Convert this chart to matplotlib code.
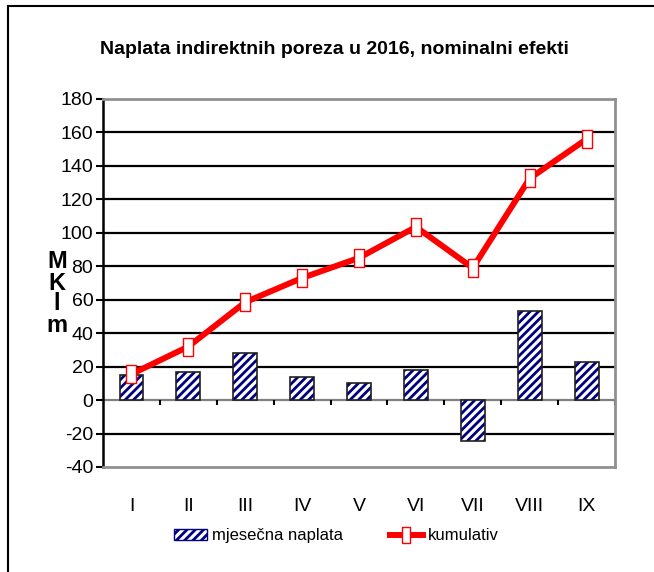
import numpy as np
import matplotlib.pyplot as plt
from matplotlib.patches import Rectangle
from matplotlib.lines import Line2D
from matplotlib.patches import Patch

# monthly values and running total (millions kn)
months = ["I", "II", "III", "IV", "V", "VI", "VII", "VIII", "IX"]
monthly = [15, 16.5, 28, 14, 10, 18, -24.5, 53, 23]
cumulative = [15.5, 32, 58.5, 73, 85, 103.5, 79, 132.5, 156]
yticks = list(range(-40, 181, 20))

plt.rcParams['font.family'] = ['Liberation Sans', 'DejaVu Sans']
plt.rcParams['hatch.linewidth'] = 2.0

fig = plt.figure(figsize=(6.54, 5.72), dpi=100)
ax = fig.add_axes([0.1575, 0.1836, 0.7829, 0.6434])

x = np.arange(len(months))
# hatch layer (navy) + outline layer (black)
ax.bar(x, monthly, width=0.42, color="white", edgecolor="#000080",
       hatch="////", linewidth=0, zorder=3)
ax.bar(x, monthly, width=0.42, color="none", edgecolor="#202020",
       linewidth=1.2, zorder=4)

rect_marker = [(-0.5, -1), (0.5, -1), (0.5, 1), (-0.5, 1), (-0.5, -1)]
ax.plot(x, cumulative, color="#ff0000", linewidth=4.3, marker=rect_marker,
        markersize=13, markerfacecolor="white", markeredgecolor="#ff0000",
        markeredgewidth=1.0, zorder=5)

ax.set_xlim(-0.5, len(months) - 0.5)
ax.set_ylim(-40, 180)
ax.set_yticks(yticks)
ax.set_yticklabels([str(v) for v in yticks], fontsize=14)
ax.set_xticks(x)
ax.set_xticklabels(months, fontsize=14)
ax.tick_params(axis="x", length=0, pad=22)
ax.tick_params(axis="y", length=5, width=1.5, direction="out", pad=2)

for v in yticks[1:-1]:
    if v == 0:
        continue
    ax.axhline(v, color="black", linewidth=1.6, zorder=1)
ax.axhline(0, color="#808080", linewidth=1.6, zorder=2)
ax.vlines(np.arange(0.5, len(months), 1.0), -3, 0, color="black",
          linewidth=1.5, zorder=2, clip_on=False)

for side in ["top", "right", "bottom"]:
    ax.spines[side].set_color("#909090")
    ax.spines[side].set_linewidth(2)
ax.spines["left"].set_color("black")
ax.spines["left"].set_linewidth(1.8)

fig.text(0.511, 0.913, "Naplata indirektnih poreza u 2016, nominalni efekti",
         ha="center", va="center", fontsize=14, fontweight="bold")

for i, ch in enumerate("MKlm"):
    fig.text(0.087, 1 - (262 + 21 * i) / 572, ch, ha="center", va="center",
             fontsize=17, fontweight="bold")

handles = [Patch(facecolor="white", edgecolor="#000080", hatch="////"),
           Line2D([0], [0], color="#ff0000", linewidth=4.3, marker=rect_marker,
                  markersize=11, markerfacecolor="white",
                  markeredgecolor="#ff0000")]
fig.legend(handles, ["mjesečna naplata", "kumulativ"], loc="center",
           bbox_to_anchor=(0.514, 0.063), ncol=2, frameon=False, fontsize=12,
           handlelength=2.0, handletextpad=0.3, columnspacing=2.8)

fig.patches.append(Rectangle((8 / 654, -0.1), 1.2, 1 - 6 / 572 + 0.1,
                             transform=fig.transFigure, fill=False,
                             edgecolor="black", linewidth=1.5))

fig.savefig("out.png")
